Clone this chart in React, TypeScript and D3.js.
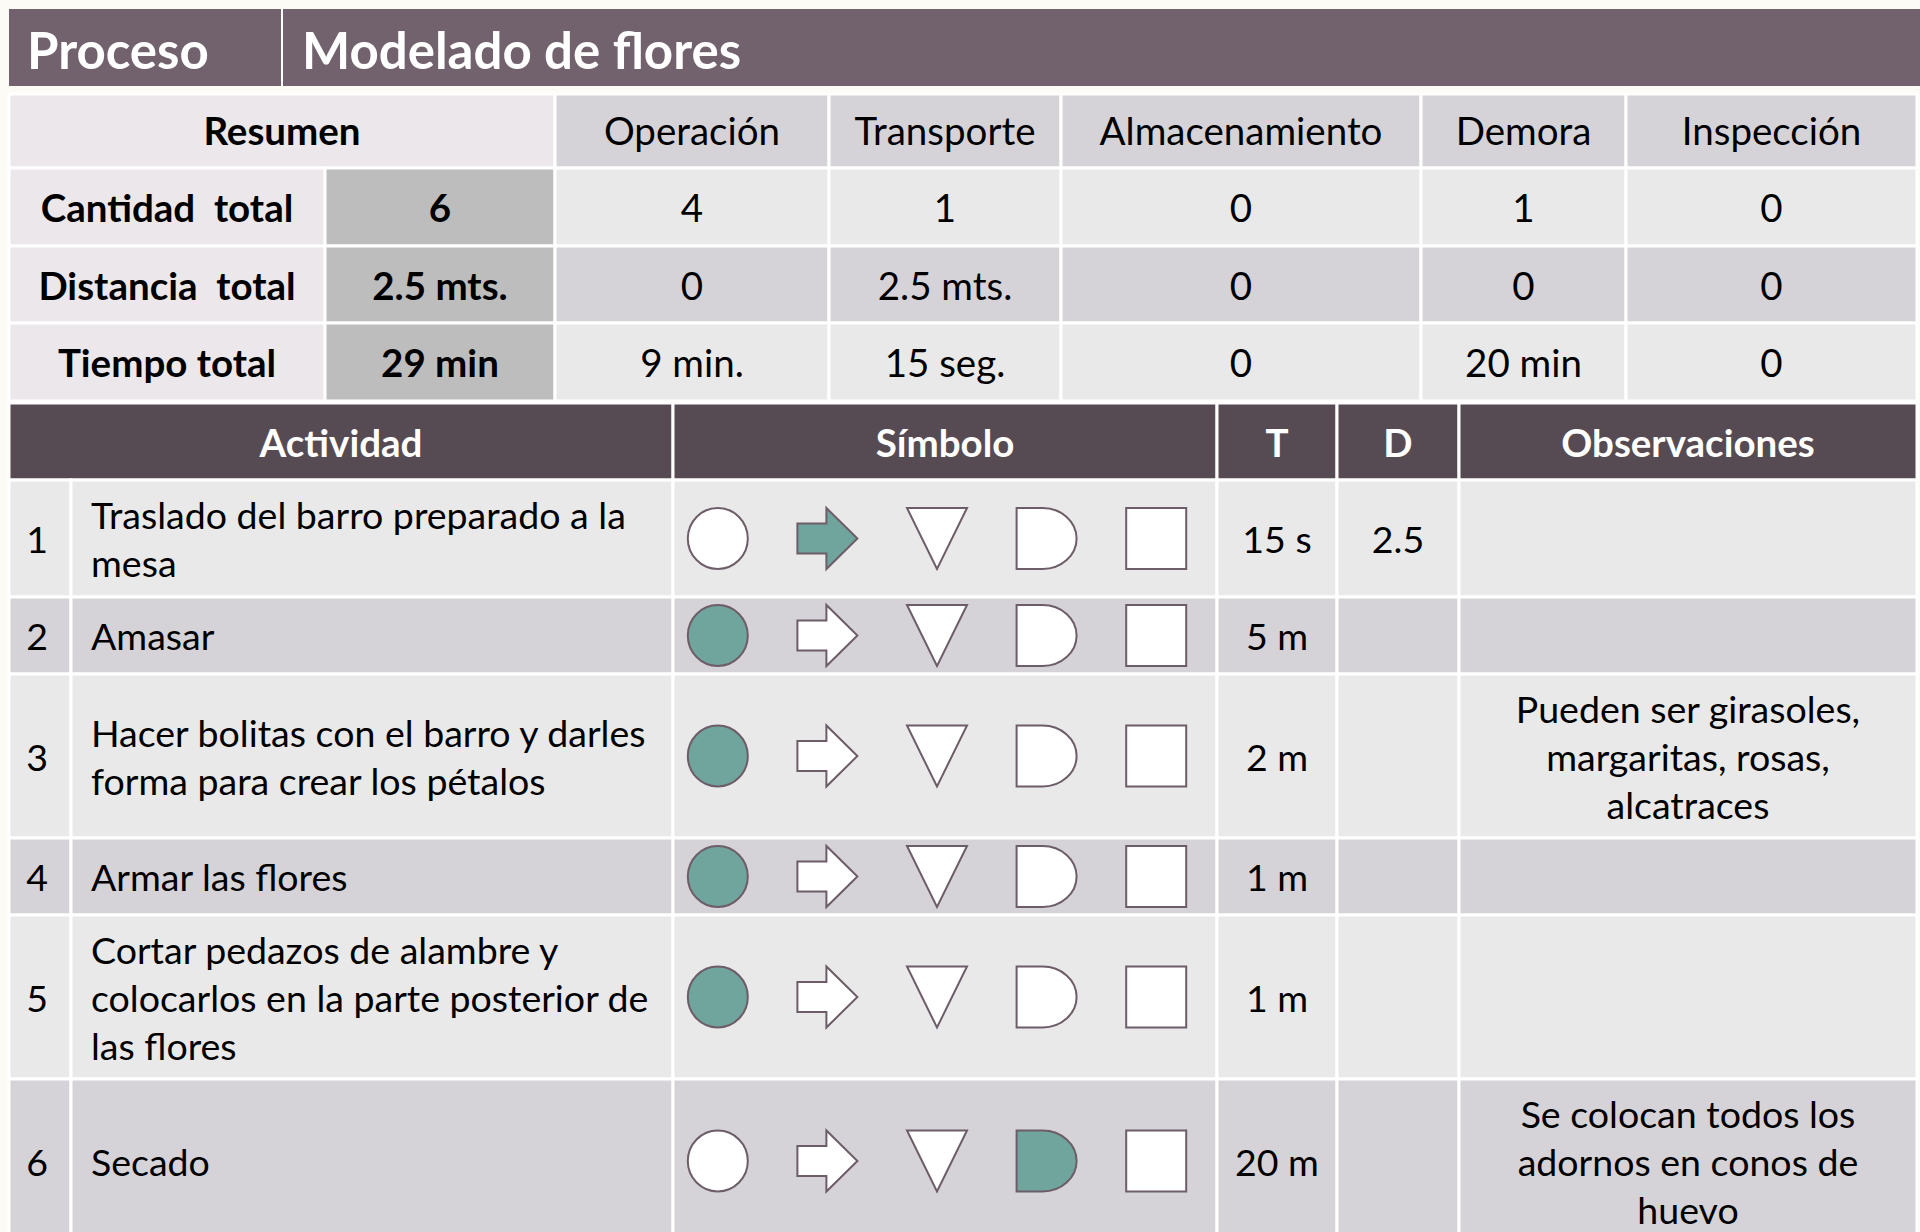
import React from 'react';
import * as d3 from 'd3';

// ---- data ----
const processName = 'Modelado de flores';
const summaryHeaders = ['Operación', 'Transporte', 'Almacenamiento', 'Demora', 'Inspección'];
const summaryLabels = ['Cantidad  total', 'Distancia  total', 'Tiempo total'];
const summaryTotals = ['6', '2.5 mts.', '29 min'];
const cantidadValues = ['4', '1', '0', '1', '0'];
const distanciaValues = ['0', '2.5 mts.', '0', '0', '0'];
const tiempoValues = ['9 min.', '15 seg.', '0', '20 min', '0'];

const activityHeaders = ['Actividad', 'Símbolo', 'T', 'D', 'Observaciones'];
const activities = [
  ['Traslado del barro preparado a la', 'mesa'],
  ['Amasar'],
  ['Hacer bolitas con el barro y darles', 'forma para crear los pétalos'],
  ['Armar las flores'],
  ['Cortar pedazos de alambre y', 'colocarlos en la parte posterior de', 'las flores'],
  ['Secado'],
];
const symbolKinds = ['operacion', 'transporte', 'almacenamiento', 'demora', 'inspeccion'];
const activitySymbol = ['transporte', 'operacion', 'operacion', 'operacion', 'operacion', 'demora'];
const activityTime = ['15 s', '5 m', '2 m', '1 m', '1 m', '20 m'];
const activityDist = ['2.5', '', '', '', '', ''];
const observations = [
  [],
  [],
  ['Pueden ser girasoles,', 'margaritas, rosas,', 'alcatraces'],
  [],
  [],
  ['Se colocan todos los', 'adornos en conos de', 'huevo'],
];

// ---- style ----
const FONT = 'Lato, "Open Sans", sans-serif';
const BODY_SIZE = 38.5;
const ROW_SIZE = 37.5;
const TITLE_BG = '#72626d';
const HEAD_BG = '#574b53';
const LIGHT = '#e9e9e9';
const MID = '#d5d3d7';
const PINK = '#ebe7ea';
const GREY = '#bebdbe';
const TEAL = '#70a59e';
const SHAPE_STROKE = '#6d5d68';
const GAP = 3;

const left = 9;
const right = 1917;

// summary table columns
const sumEdges = [555, 829, 1061, 1421, 1626, right];
const sumLabelEdge = 325;
const sumRows = d3.scaleOrdinal<string, number>()
  .domain(['header', ...summaryLabels])
  .range([94, 168, 246, 323]);
const sumRowH = [74, 78, 77, 78];

// activity table columns
const actEdges = [left, 673, 1217, 1337, 1459, right];
const numEdge = 71;
const actHeadTop = 403;
const actHeadBottom = 480;

const lineH = 48;
const rowHeight = d3.scaleLinear().domain([1, 2, 3]).range([77, 117, 164]);

const symbolX = d3.scaleBand<string>().domain(symbolKinds).range([663, 1211]);

const Cell = ({ x0, x1, y0, y1, fill }: any) => (
  <rect x={x0} y={y0} width={x1 - x0} height={y1 - y0} fill={fill} stroke="#fff" strokeWidth={GAP} />
);

const Lines = ({ lines, x, cy, anchor = 'middle', weight = 400, size = BODY_SIZE, color = '#000' }: any) => (
  <text
    x={x}
    fontFamily={FONT}
    fontSize={size}
    fontWeight={weight}
    fill={color}
    textAnchor={anchor}
    style={{ whiteSpace: 'pre' }}
  >
    {lines.map((l: string, i: number) => (
      <tspan key={i} x={x} y={cy + (i - (lines.length - 1) / 2) * lineH} dominantBaseline="central">
        {l}
      </tspan>
    ))}
  </text>
);

const Symbol = ({ kind, cx, cy, active }: any) => {
  const fill = active ? TEAL : '#fff';
  const w = 30, h = 30.5;
  const common = { fill, stroke: SHAPE_STROKE, strokeWidth: 2 };
  if (kind === 'operacion') return <ellipse cx={cx} cy={cy} rx={w} ry={h} {...common} />;
  if (kind === 'transporte') {
    const p = d3.path();
    const hx = cx - 1;
    p.moveTo(cx - w, cy - 15);
    p.lineTo(hx, cy - 15);
    p.lineTo(hx, cy - h);
    p.lineTo(cx + w, cy);
    p.lineTo(hx, cy + h);
    p.lineTo(hx, cy + 15);
    p.lineTo(cx - w, cy + 15);
    p.closePath();
    return <path d={p.toString()} {...common} />;
  }
  if (kind === 'almacenamiento') {
    const p = d3.path();
    p.moveTo(cx - w, cy - h);
    p.lineTo(cx + w, cy - h);
    p.lineTo(cx, cy + h);
    p.closePath();
    return <path d={p.toString()} {...common} />;
  }
  if (kind === 'demora') {
    const d = `M${cx - w},${cy - h}L${cx - 4},${cy - h}A34,${h} 0 0 1 ${cx - 4},${cy + h}L${cx - w},${cy + h}Z`;
    return <path d={d} {...common} />;
  }
  return <rect x={cx - w} y={cy - h} width={2 * w} height={2 * h} {...common} />;
};

export default function App() {
  // summary rows
  const sumRowKeys = ['header', ...summaryLabels];
  const sumData = [cantidadValues, distanciaValues, tiempoValues];
  const sumFills = [LIGHT, MID, LIGHT];

  // activity rows layout
  let y = actHeadBottom;
  const rows = activities.map((a, i) => {
    const n = Math.max(a.length, observations[i].length);
    const h = rowHeight(n);
    const r = { y0: y, y1: y + h, cy: y + h / 2 };
    y += h;
    return r;
  });

  const colCenter = (edges: number[], i: number) => (edges[i] + edges[i + 1]) / 2;

  return (
    <svg
      width={1920}
      height={1232}
      style={{ position: 'absolute', left: 0, top: 0, background: '#fdfbf5' }}
    >
      {/* title bar */}
      <rect x={left} y={9} width={right - left + 3} height={77} fill={TITLE_BG} />
      <rect x={281} y={9} width={2} height={77} fill="#fff" />
      <text x={27} y={49} dominantBaseline="central" fontFamily={FONT} fontWeight={700} fontSize={51} fill="#fff">
        Proceso
      </text>
      <text x={302} y={49} dominantBaseline="central" fontFamily={FONT} fontWeight={700} fontSize={51} fill="#fff">
        {processName}
      </text>

      {/* summary table */}
      {sumRowKeys.map((k, r) => {
        const y0 = sumRows(k);
        const y1 = y0 + sumRowH[r];
        const cy = (y0 + y1) / 2;
        if (r === 0) {
          return (
            <g key={k}>
              <Cell x0={left} x1={sumEdges[0]} y0={y0} y1={y1} fill={PINK} />
              <Lines lines={['Resumen']} x={(left + sumEdges[0]) / 2} cy={cy - 1} weight={700} />
              {summaryHeaders.map((hd, i) => (
                <g key={hd}>
                  <Cell x0={sumEdges[i]} x1={sumEdges[i + 1]} y0={y0} y1={y1} fill={MID} />
                  <Lines lines={[hd]} x={colCenter(sumEdges, i)} cy={cy - 1} />
                </g>
              ))}
            </g>
          );
        }
        const vals = sumData[r - 1];
        return (
          <g key={k}>
            <Cell x0={left} x1={sumLabelEdge} y0={y0} y1={y1} fill={PINK} />
            <Lines lines={[k]} x={(left + sumLabelEdge) / 2} cy={cy} weight={700} />
            <Cell x0={sumLabelEdge} x1={sumEdges[0]} y0={y0} y1={y1} fill={GREY} />
            <Lines lines={[summaryTotals[r - 1]]} x={(sumLabelEdge + sumEdges[0]) / 2} cy={cy} weight={700} />
            {vals.map((v, i) => (
              <g key={i}>
                <Cell x0={sumEdges[i]} x1={sumEdges[i + 1]} y0={y0} y1={y1} fill={sumFills[r - 1]} />
                <Lines lines={[v]} x={colCenter(sumEdges, i)} cy={cy} />
              </g>
            ))}
          </g>
        );
      })}

      {/* activity header */}
      {activityHeaders.map((hd, i) => (
        <g key={hd}>
          <Cell x0={actEdges[i]} x1={actEdges[i + 1]} y0={actHeadTop} y1={actHeadBottom} fill={HEAD_BG} />
          <Lines
            lines={[hd]}
            x={colCenter(actEdges, i)}
            cy={(actHeadTop + actHeadBottom) / 2}
            weight={700}
            color="#fff"
          />
        </g>
      ))}

      {/* activity rows */}
      {rows.map((r, i) => {
        const fill = i % 2 === 0 ? LIGHT : MID;
        return (
          <g key={i}>
            <Cell x0={left} x1={numEdge} y0={r.y0} y1={r.y1} fill={fill} />
            <Cell x0={numEdge} x1={actEdges[1]} y0={r.y0} y1={r.y1} fill={fill} />
            {actEdges.slice(1, -1).map((e, j) => (
              <Cell key={j} x0={e} x1={actEdges[j + 2]} y0={r.y0} y1={r.y1} fill={fill} />
            ))}
            <Lines lines={[String(i + 1)]} x={37} cy={r.cy} size={ROW_SIZE} />
            <Lines lines={activities[i]} x={91} cy={r.cy} anchor="start" size={ROW_SIZE} />
            {symbolKinds.map((k) => (
              <Symbol
                key={k}
                kind={k}
                cx={(symbolX(k) as number) + symbolX.bandwidth() / 2}
                cy={r.cy}
                active={activitySymbol[i] === k}
              />
            ))}
            <Lines lines={[activityTime[i]]} x={colCenter(actEdges, 2)} cy={r.cy} size={ROW_SIZE} />
            {activityDist[i] && (
              <Lines lines={[activityDist[i]]} x={colCenter(actEdges, 3)} cy={r.cy} size={ROW_SIZE} />
            )}
            {observations[i].length > 0 && (
              <Lines lines={observations[i]} x={colCenter(actEdges, 4)} cy={r.cy} size={ROW_SIZE} />
            )}
          </g>
        );
      })}
    </svg>
  );
}
